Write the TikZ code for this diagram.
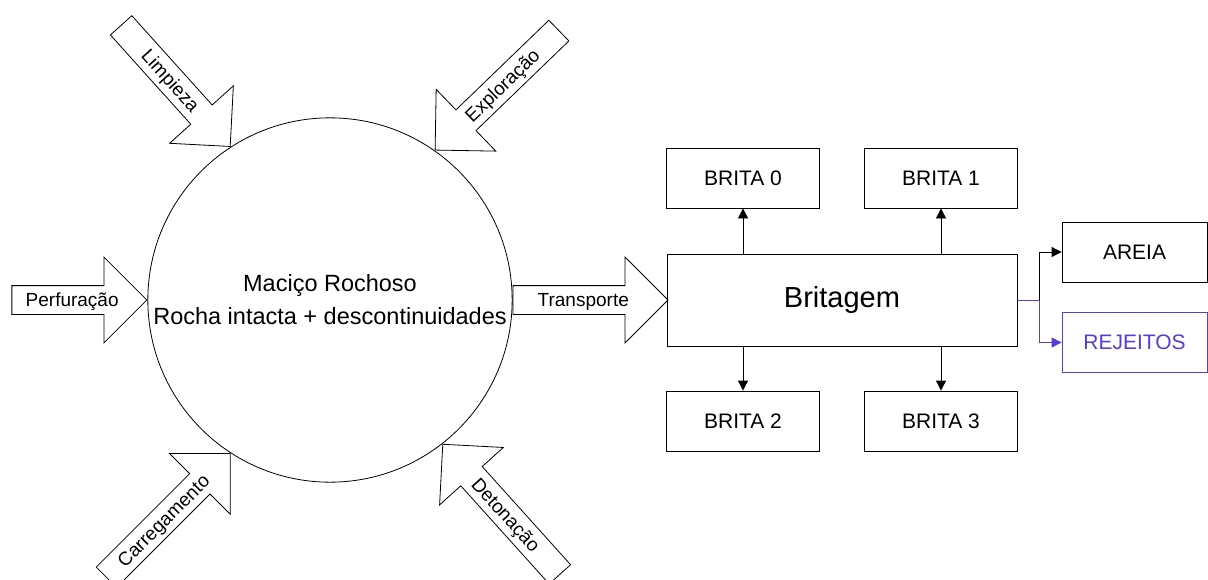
\documentclass[tikz,border=0pt]{standalone}
\usepackage{fontspec}
\setmainfont{Liberation Sans}
\usetikzlibrary{shapes.arrows,arrows.meta}
\definecolor{rejeito}{RGB}{88,60,214}

\begin{document}
\begin{tikzpicture}
  [x=1pt, y=-1pt, line width=0.8pt,
   seta/.style={draw, single arrow, single arrow head extend=28.5pt,
     single arrow head indent=0pt, inner xsep=0pt, inner ysep=3.5pt,
     text height=17.3pt, text depth=3.7pt, font=\fontsize{19}{23}\selectfont},
   caixa/.style={draw, minimum width=153pt, minimum height=60pt, inner sep=0pt,
     font=\fontsize{21}{25}\selectfont},
   liga/.style={-{Triangle[length=10pt,width=10pt]}}]

  \useasboundingbox (0,0) rectangle (1208,579);

  \node[draw, circle, minimum size=364pt, align=center,
        font=\fontsize{23.5}{33}\selectfont] (macico) at (330,300)
        {Maciço Rochoso\\Rocha intacta + descontinuidades};

  % operacoes sobre o macico
  \node[seta, minimum height=135pt, anchor=tip] (perfuracao) at (macico.west) {Perfuração};
  \node[seta, minimum height=163pt, anchor=tip, rotate=-48] (limpieza) at (macico.123) {Limpieza};
  \node[seta, minimum height=172pt, anchor=tip, rotate=44, shape border rotate=180] (exploracao) at (macico.55) {Exploração};
  \node[seta, minimum height=175pt, anchor=tip, rotate=45] (carregamento) at (macico.237) {Carregamento};
  \node[seta, minimum height=175pt, anchor=tip, rotate=-48, shape border rotate=180] (detonacao) at (macico.308) {Detonação};
  \node[seta, minimum height=155pt, anchor=tail] (transporte) at (macico.east) {Transporte};

  \node[draw, minimum width=350pt, minimum height=92pt,
        font=\fontsize{29}{33}\selectfont] (britagem) at (842,300) {Britagem};

  \node[caixa] (brita0) at (743,178) {BRITA 0};
  \node[caixa] (brita1) at (941,178) {BRITA 1};
  \node[caixa] (brita2) at (743,421) {BRITA 2};
  \node[caixa] (brita3) at (941,421) {BRITA 3};
  \node[caixa, minimum width=145pt] (areia) at (1134.5,252) {AREIA};
  \node[caixa, minimum width=145pt, draw=rejeito, text=rejeito] (rejeitos) at (1134.5,342.5) {REJEITOS};

  \draw[liga] (britagem.north -| brita0) -- (brita0);
  \draw[liga] (britagem.north -| brita1) -- (brita1);
  \draw[liga] (britagem.south -| brita2) -- (brita2);
  \draw[liga] (britagem.south -| brita3) -- (brita3);

  \coordinate (divisao) at (1039,300);
  \draw[rejeito] (britagem.east) -- (divisao);
  \draw[liga] (divisao) |- (areia);
  \draw[liga, rejeito] (divisao) |- (rejeitos);
\end{tikzpicture}
\end{document}
